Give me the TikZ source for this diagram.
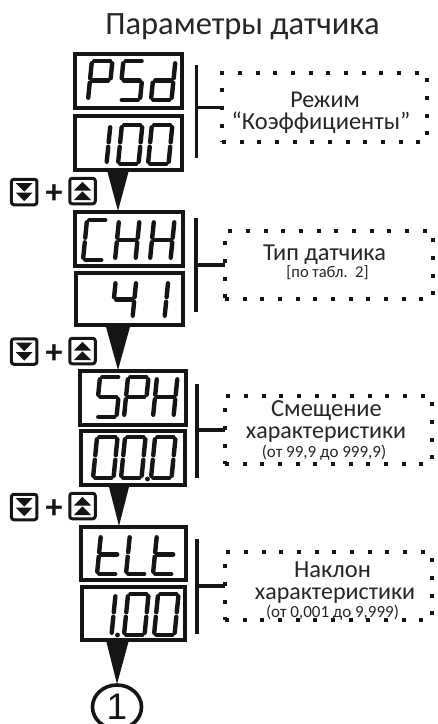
\documentclass[tikz,border=0pt]{standalone}
\usepackage{fontspec}
\setmainfont{Carlito}
\newfontfamily\arialf{Liberation Sans}
\usetikzlibrary{calc,shapes.geometric}
\definecolor{ink}{HTML}{151515}
\definecolor{txt}{HTML}{262626}
\newcommand{\fsz}[1]{\fontsize{#1pt}{#1pt}\selectfont}
\tikzset{
  x=1pt,y=-1pt,
  disp/.style={draw=ink,line width=4pt,rectangle,inner sep=0pt,outer sep=0pt,text opacity=0,font=\arialf\fsz{34}},
  dotbox/.style={draw=ink,line width=4pt,rectangle,dash pattern=on 4pt off 13.65pt,inner sep=0pt,outer sep=0pt},
  bar/.style={draw=ink,line width=3.8pt},
  segline/.style={draw=ink,line width=4.4pt,line cap=round,shorten <=2.3pt,shorten >=2.3pt},
  tri/.style={fill=ink,draw=none},
  btn/.style={draw=ink,line width=3pt,rounded corners=2.5pt,minimum width=25.5pt,minimum height=25.5pt,inner sep=0pt,outer sep=0pt},
  lab/.style={text=txt,align=center,inner sep=0pt,outer sep=0pt,anchor=base},
}
% seven-segment glyphs: left x, bottom y, height
\def\segw{20.5}
\newcommand{\sga}{\draw[segline] (0,-\hh)--(\segw,-\hh);}
\newcommand{\sgb}{\draw[segline] (\segw,-\hh)--(\segw,-\hm);}
\newcommand{\sgc}{\draw[segline] (\segw,-\hm)--(\segw,0);}
\newcommand{\sgd}{\draw[segline] (0,0)--(\segw,0);}
\newcommand{\sge}{\draw[segline] (0,0)--(0,-\hm);}
\newcommand{\sgf}{\draw[segline] (0,-\hm)--(0,-\hh);}
\newcommand{\sgg}{\draw[segline] (0,-\hm)--(\segw,-\hm);}
\newcommand{\glP}{\sga\sgb\sge\sgf\sgg}
\newcommand{\glS}{\sga\sgc\sgd\sgf\sgg}
\newcommand{\gld}{\sgb\sgc\sgd\sge\sgg}
\newcommand{\glone}{\sgb\sgc}
\newcommand{\glzero}{\sga\sgb\sgc\sgd\sge\sgf}
\newcommand{\glC}{\sga\sgd\sge\sgf}
\newcommand{\glH}{\sgb\sgc\sge\sgf\sgg}
\newcommand{\glfour}{\sgb\sgc\sgf\sgg}
\newcommand{\glt}{\sgd\sge\sgf\sgg}
\newcommand{\glL}{\sgd\sge\sgf}
\newcommand{\segdigit}[4]{\begin{scope}[shift={(#1,#2)},xslant=0.1]
  \pgfmathsetmacro{\hh}{#3}\pgfmathsetmacro{\hm}{#3/2}#4\end{scope}}
\newcommand{\segdot}[2]{\fill[ink] (#1,#2) circle (2.4pt);}
\newcommand{\downbtn}[3]{\node[btn] (#1) at (#2,#3) {};
  \fill[tri] ($(#1.center)+(-8.5,-9)$) -- ++(17,0) -- ++(-8.5,8.6) -- cycle;
  \fill[tri] ($(#1.center)+(-8.5,0.5)$) -- ++(17,0) -- ++(-8.5,8.6) -- cycle;}
\newcommand{\upbtn}[3]{\node[btn] (#1) at (#2,#3) {};
  \fill[tri] ($(#1.center)+(-8.5,9)$) -- ++(17,0) -- ++(-8.5,-8.6) -- cycle;
  \fill[tri] ($(#1.center)+(-8.5,-0.5)$) -- ++(17,0) -- ++(-8.5,-8.6) -- cycle;}
\begin{document}
\begin{tikzpicture}
\useasboundingbox (0,0) rectangle (438,724);
\clip (0,0) rectangle (438,724);
\fill[white] (0,0) rectangle (438,724);

\node[lab,font=\fsz{32.5}] (title) at (242.5,34) {Параметры датчика};

% displays
\node[disp,minimum width=107pt,minimum height=54pt] (b1) at (128.5,80.5) {PSd};
\node[disp,minimum width=107pt,minimum height=54pt] (b2) at (128.5,143) {100};
\node[disp,minimum width=108pt,minimum height=54pt] (b3) at (129,239) {CHH};
\node[disp,minimum width=107pt,minimum height=52pt] (b4) at (129.5,299) {41};
\node[disp,minimum width=106pt,minimum height=54pt] (b5) at (133,398) {SPH};
\node[disp,minimum width=104pt,minimum height=54pt] (b6) at (133,458) {00.0};
\node[disp,minimum width=105pt,minimum height=53pt] (b7) at (133.5,553.5) {tLt};
\node[disp,minimum width=103.5pt,minimum height=53pt] (b8) at (133.5,613.5) {1.00};

% segment glyphs
\segdigit{88}{100}{39}{\glP}\segdigit{119.5}{100}{39}{\glS}\segdigit{151}{100}{39}{\gld}
\segdigit{86}{164}{39}{\glone}\segdigit{118}{164}{39}{\glzero}\segdigit{148}{164}{39}{\glzero}
\segdigit{83}{260}{40}{\glC}\segdigit{115}{260}{40}{\glH}\segdigit{150}{260}{40}{\glH}
\segdigit{112}{318}{37}{\glfour}\segdigit{144}{318}{37}{\glone}
\segdigit{96}{417}{40}{\glS}\segdigit{124}{417}{40}{\glP}\segdigit{153}{417}{40}{\glH}
\segdigit{93}{478}{41}{\glzero}\segdigit{121}{478}{41}{\glzero}\segdigit{151}{478}{41}{\glzero}\segdot{147.5}{479}
\segdigit{97}{574}{39}{\glt}\segdigit{126}{574}{39}{\glL}\segdigit{153}{574}{39}{\glt}
\segdigit{91}{635}{41}{\glone}\segdigit{124}{635}{41}{\glzero}\segdigit{154}{635}{41}{\glzero}\segdot{117.5}{635}

% end circle
\node[draw=ink,line width=3.6pt,ellipse,minimum width=49pt,minimum height=44pt,inner sep=0pt,outer sep=0pt,font=\arialf\fsz{37},text=ink] (c1) at (117,707) {1};

% triangles between displays
\coordinate (a1) at (118,211);
\coordinate (a2) at (118,370);
\coordinate (a3) at (119,526);
\coordinate (a4) at (117,684);
\fill[tri] (a1 |- b2.south) ++(-11,0) -- ++(22,0) -- (a1) -- cycle;
\fill[tri] (a2 |- b4.south) ++(-12.5,0) -- ++(25,0) -- (a2) -- cycle;
\fill[tri] (a3 |- b6.south) ++(-10.5,0) -- ++(21,0) -- (a3) -- cycle;
\fill[tri] (a4 |- b8.south) ++(-11,0) -- ++(23,0) -- (a4) -- cycle;

% dotted boxes
\node[dotbox,minimum width=205pt,minimum height=69pt] (d1) at (324.5,107.5) {};
\node[dotbox,minimum width=208pt,minimum height=68pt] (d2) at (329,265) {};
\node[dotbox,minimum width=207pt,minimum height=68pt] (d3) at (328.5,430) {};
\node[dotbox,minimum width=207pt,minimum height=68pt] (d4) at (328.5,586) {};

% brackets
\coordinate (v1t) at (196.5,65);  \coordinate (v1b) at (196.5,158);
\coordinate (v2t) at (196,218);   \coordinate (v2b) at (196,312);
\coordinate (v3t) at (197,384);   \coordinate (v3b) at (197,478);
\coordinate (v4t) at (197,539);   \coordinate (v4b) at (197,634);
\draw[bar] (v1t) -- (v1b); \draw[bar] (v1t |- d1.west) -- (d1.west);
\draw[bar] (v2t) -- (v2b); \draw[bar] (v2t |- d2.west) -- (d2.west);
\draw[bar] (v3t) -- (v3b); \draw[bar] (v3t |- d3.west) -- (d3.west);
\draw[bar] (v4t) -- (v4b); \draw[bar] (v4t |- d4.west) -- (d4.west);

% texts of the dotted boxes
\node[lab,font=\fsz{24}] (t1a) at (325,107) {Режим};
\node[lab,font=\fsz{24.5}] (t1b) at (321,129) {“Коэффициенты”};
\node[lab,font=\fsz{24.3}] (t2a) at (324.5,260) {Тип датчика};
\node[lab,font=\fsz{16.5}] (t2b) at (327.5,277) {[по табл.\ \ 2]};
\node[lab,font=\fsz{24.5}] (t3a) at (326.5,416) {Смещение};
\node[lab,font=\fsz{24}] (t3b) at (326,438) {характеристики};
\node[lab,font=\fsz{17}] (t3c) at (324,457) {(от 99,9 до 999,9)};
\node[lab,font=\fsz{24.5}] (t4a) at (332.5,577) {Наклон};
\node[lab,font=\fsz{24}] (t4b) at (335,599) {характеристики};
\node[lab,font=\fsz{17}] (t4c) at (332.5,617) {(от 0,001 до 9,999)};

% buttons
\downbtn{k1}{24.2}{192}\upbtn{k2}{82.5}{191}
\node[lab,font=\bfseries\fsz{34},text=ink] (p1) at (54,203) {+};
\downbtn{k3}{24.2}{351.5}\upbtn{k4}{82.5}{351}
\node[lab,font=\bfseries\fsz{34},text=ink] (p2) at (54,363) {+};
\downbtn{k5}{24.2}{507}\upbtn{k6}{82.5}{506}
\node[lab,font=\bfseries\fsz{34},text=ink] (p3) at (54,518.5) {+};
\end{tikzpicture}
\end{document}
